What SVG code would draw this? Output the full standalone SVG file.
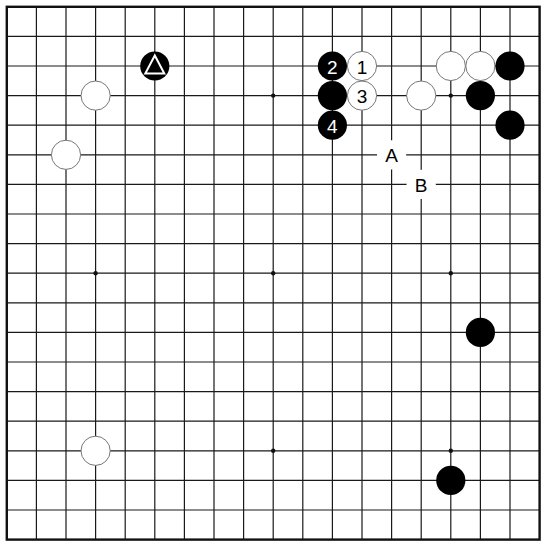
<svg xmlns="http://www.w3.org/2000/svg" width="550" height="545" viewBox="0 0 550 545">
<style>
.grid{stroke:#1a1a1a;stroke-width:1.2;fill:none}
.border{stroke:#111;stroke-width:2.4;fill:none}
.star{fill:#111}
.w{fill:#fff;stroke:#777;stroke-width:1}
.b{fill:#000}
.lbl{font-family:"Liberation Sans",Arial,sans-serif;font-size:19px;text-anchor:middle;dominant-baseline:central}
.onw{fill:#000}
.onb{fill:#fff}
.blank{fill:#fff}
</style>
<rect width="550" height="545" fill="#fff"/>
<g id="board">
<path class="grid" d="M36.4 6.8V539.6M66 6.8V539.6M95.6 6.8V539.6M125.2 6.8V539.6M154.8 6.8V539.6M184.4 6.8V539.6M214 6.8V539.6M243.6 6.8V539.6M273.2 6.8V539.6M302.8 6.8V539.6M332.4 6.8V539.6M362 6.8V539.6M391.6 6.8V539.6M421.2 6.8V539.6M450.8 6.8V539.6M480.4 6.8V539.6M510 6.8V539.6M6.8 36.4H539.6M6.8 66H539.6M6.8 95.6H539.6M6.8 125.2H539.6M6.8 154.8H539.6M6.8 184.4H539.6M6.8 214H539.6M6.8 243.6H539.6M6.8 273.2H539.6M6.8 302.8H539.6M6.8 332.4H539.6M6.8 362H539.6M6.8 391.6H539.6M6.8 421.2H539.6M6.8 450.8H539.6M6.8 480.4H539.6M6.8 510H539.6"/>
<rect class="border" x="6.8" y="6.8" width="532.8" height="532.8"/>
<g class="star">
<circle cx="95.6" cy="95.6" r="2.2"/><circle cx="273.2" cy="95.6" r="2.2"/><circle cx="450.8" cy="95.6" r="2.2"/>
<circle cx="95.6" cy="273.2" r="2.2"/><circle cx="273.2" cy="273.2" r="2.2"/><circle cx="450.8" cy="273.2" r="2.2"/>
<circle cx="95.6" cy="450.8" r="2.2"/><circle cx="273.2" cy="450.8" r="2.2"/><circle cx="450.8" cy="450.8" r="2.2"/>
</g>
</g>
<g id="stones">
<g id="b-tri"><circle class="b" cx="154.8" cy="66" r="14.6"/><polygon points="154.8,55.5 145.3,73.5 164.3,73.5" fill="none" stroke="#fff" stroke-width="2"/></g>
<g id="w-d4"><circle class="w" cx="95.6" cy="95.6" r="14.6"/></g>
<g id="w-c6"><circle class="w" cx="66" cy="154.8" r="14.6"/></g>
<g id="b-2"><circle class="b" cx="332.4" cy="66" r="14.6"/><text class="lbl onb" x="332.4" y="67">2</text></g>
<g id="w-1"><circle class="w" cx="362" cy="66" r="14.6"/><text class="lbl onw" x="362" y="67">1</text></g>
<g id="b-l4"><circle class="b" cx="332.4" cy="95.6" r="14.6"/></g>
<g id="w-3"><circle class="w" cx="362" cy="95.6" r="14.6"/><text class="lbl onw" x="362" y="96.6">3</text></g>
<g id="b-4"><circle class="b" cx="332.4" cy="125.2" r="14.6"/><text class="lbl onb" x="332.4" y="126.2">4</text></g>
<g id="w-o4"><circle class="w" cx="421.2" cy="95.6" r="14.6"/></g>
<g id="w-p3"><circle class="w" cx="450.8" cy="66" r="14.6"/></g>
<g id="w-q3"><circle class="w" cx="480.4" cy="66" r="14.6"/></g>
<g id="b-r3"><circle class="b" cx="510" cy="66" r="14.6"/></g>
<g id="b-q4"><circle class="b" cx="480.4" cy="95.6" r="14.6"/></g>
<g id="b-r5"><circle class="b" cx="510" cy="125.2" r="14.6"/></g>
<g id="b-q12"><circle class="b" cx="480.4" cy="332.4" r="14.6"/></g>
<g id="w-d16"><circle class="w" cx="95.6" cy="450.8" r="14.6"/></g>
<g id="b-p17"><circle class="b" cx="450.8" cy="480.4" r="14.6"/></g>
</g>
<g id="labels">
<g id="lbl-A"><circle class="blank" cx="391.6" cy="154.8" r="14.6"/><text class="lbl onw" x="391.6" y="155.8">A</text></g>
<g id="lbl-B"><circle class="blank" cx="421.2" cy="184.4" r="14.6"/><text class="lbl onw" x="421.2" y="185.4">B</text></g>
</g>
</svg>
